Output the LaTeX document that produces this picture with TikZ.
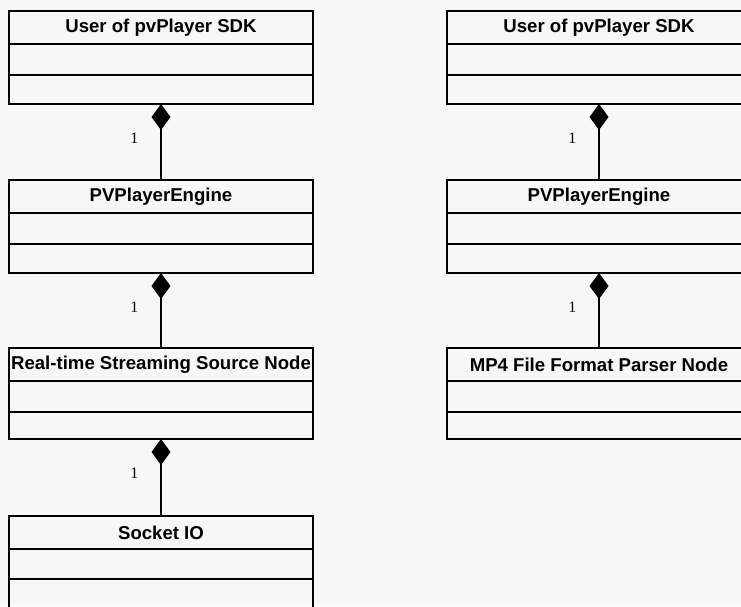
\documentclass[tikz,border=0pt]{standalone}
\usepackage{fontspec}
\setmainfont{Liberation Serif}
\setsansfont{Liberation Sans}
\usetikzlibrary{positioning,arrows.meta}

\tikzset{
  classname/.style={draw=black, line width=1.3pt, outer sep=0pt, inner sep=0pt,
    minimum width=304pt, minimum height=33pt,
    font=\sffamily\bfseries\fontsize{18.6}{20}\selectfont},
  classpart/.style={draw=black, line width=1.3pt, outer sep=0pt, inner sep=0pt,
    minimum width=304pt},
  compose/.style={line width=1.2pt, -{Diamond[length=26pt,width=19pt]}},
  mult/.style={inner sep=0pt, font=\fontsize{16}{17}\selectfont}
}

\begin{document}
\begin{tikzpicture}[x=1pt,y=-1pt]
    \fill[black!3] (0,0) rectangle (741,606);
    \useasboundingbox (0,0) rectangle (741,606);
    \clip (0,0) rectangle (741,606);

    % User of pvPlayer SDK (left)
    \node[classname] (userL) at (161,27.5) {User of pvPlayer SDK};
    \node[classpart, minimum height=31pt, below=0pt of userL] (userLa) {};
    \node[classpart, minimum height=29pt, below=0pt of userLa] (userLb) {};

    % PVPlayerEngine (left)
    \node[classname] (engineL) at (161,196.5) {PVPlayerEngine};
    \node[classpart, minimum height=31pt, below=0pt of engineL] (engineLa) {};
    \node[classpart, minimum height=29pt, below=0pt of engineLa] (engineLb) {};

    % Real-time Streaming Source Node
    \node[classname] (rtsp) at (161,364.5) {Real-time Streaming Source Node};
    \node[classpart, minimum height=31pt, below=0pt of rtsp] (rtspa) {};
    \node[classpart, minimum height=27pt, below=0pt of rtspa] (rtspb) {};

    % Socket IO
    \node[classname] (socket) at (161,532.5) {Socket IO};
    \node[classpart, minimum height=30pt, below=0pt of socket] (socketa) {};
    \node[classpart, minimum height=30pt, below=0pt of socketa] (socketb) {};

    % User of pvPlayer SDK (right)
    \node[classname] (userR) at (599,27.5) {User of pvPlayer SDK};
    \node[classpart, minimum height=31pt, below=0pt of userR] (userRa) {};
    \node[classpart, minimum height=29pt, below=0pt of userRa] (userRb) {};

    % PVPlayerEngine (right)
    \node[classname] (engineR) at (599,196.5) {PVPlayerEngine};
    \node[classpart, minimum height=31pt, below=0pt of engineR] (engineRa) {};
    \node[classpart, minimum height=29pt, below=0pt of engineRa] (engineRb) {};

    % MP4 File Format Parser Node
    \node[classname] (mpfour) at (599,364.5) {MP4 File Format Parser Node};
    \node[classpart, minimum height=31pt, below=0pt of mpfour] (mpfoura) {};
    \node[classpart, minimum height=27pt, below=0pt of mpfoura] (mpfourb) {};

    % compositions
    \draw[compose] (engineL.north) -- (userLb.south) node[mult, pos=0.55, left=22pt] {1};
    \draw[compose] (rtsp.north) -- (engineLb.south) node[mult, pos=0.55, left=22pt] {1};
    \draw[compose] (socket.north) -- (rtspb.south) node[mult, pos=0.55, left=22pt] {1};
    \draw[compose] (engineR.north) -- (userRb.south) node[mult, pos=0.55, left=22pt] {1};
    \draw[compose] (mpfour.north) -- (engineRb.south) node[mult, pos=0.55, left=22pt] {1};
\end{tikzpicture}
\end{document}
